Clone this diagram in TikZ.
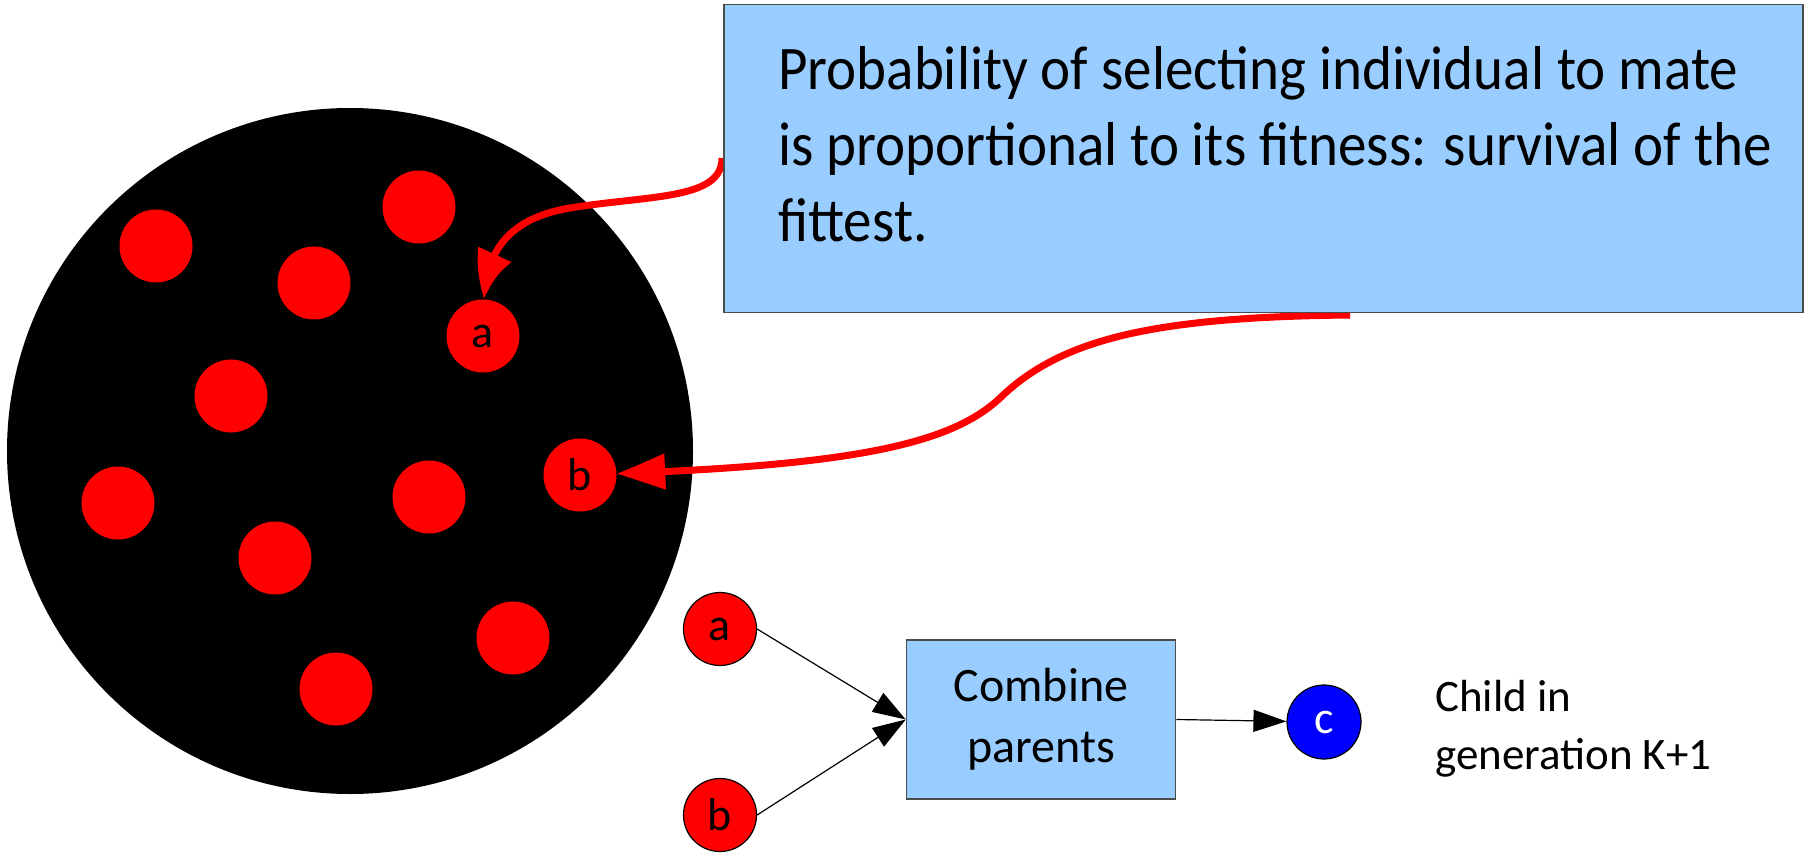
\documentclass[tikz,border=0pt]{standalone}
\usepackage{fontspec}
\setmainfont{Carlito}
\newfontfamily\panelfont[FakeStretch=0.92]{Carlito}
\usetikzlibrary{arrows.meta,bending}
\definecolor{skyfill}{HTML}{99CCFF}
\definecolor{dotred}{HTML}{FF0000}
\definecolor{childblue}{HTML}{0000FF}
\begin{document}
\begin{tikzpicture}[x=1pt,y=-1pt,
  dot/.style={circle,fill=dotred,minimum size=73pt,inner sep=0pt,font=\fontsize{46}{46}\selectfont},
  parent/.style={dot,draw=black,line width=1.2pt},
  panel/.style={rectangle,fill=skyfill,draw=black!70,line width=1.5pt,inner sep=0pt},
  pick/.style={draw=dotred,line width=7pt,-{Triangle[length=50pt,width=34pt,bend]}},
  flow/.style={draw=black,line width=1.2pt,-{Triangle[length=33pt,width=22pt]}}]
\useasboundingbox (0,0) rectangle (1806,858);

% population
\node[circle,fill=black,minimum size=686pt,inner sep=0pt] (pop) at (350,451) {};
\node[dot] (d1) at (156,246) {};
\node[dot] (d2) at (419,207) {};
\node[dot] (d3) at (314,283) {};
\node[dot] (d4) at (231,396) {};
\node[dot] (d5) at (118,503) {};
\node[dot] (d6) at (429,497) {};
\node[dot] (d7) at (275,558) {};
\node[dot] (d8) at (513,638) {};
\node[dot] (d9) at (336,689) {};
\node[dot] (sela) at (483,336) {a};
\node[dot] (selb) at (580,475) {b};

% selection arrows
\coordinate (pa) at (722,158);
\coordinate (pb) at (1350,315);
\draw[pick] (pa) .. controls (722,200) and (650,195) .. (570,208) .. controls (510,218) and (486,250) .. (sela);
\draw[pick] (pb) .. controls (1150,317) and (1060,340) .. (1000,398) .. controls (950,445) and (850,465) .. (selb);

% explanation panel
\node[panel,minimum width=1079pt,minimum height=308pt,anchor=north west] (prob) at (723,4) {};
\node[anchor=north west,align=left,inner sep=0pt,font=\panelfont\fontsize{62}{76}\selectfont] (probtxt) at (778,46)
  {Probability of selecting individual to mate\\is proportional to its fitness: survival of the\\fittest.};

% crossover
\node[parent] (para) at (720,629) {a};
\node[parent] (parb) at (720,815) {b};
\node[panel,minimum width=269pt,minimum height=159pt,align=center,font=\fontsize{48}{61}\selectfont] (comb) at (1041,719.5) {Combine\\parents};
\node[circle,fill=childblue,draw=black,line width=1.2pt,minimum size=74pt,inner sep=0pt,text=white,font=\fontsize{46}{46}\selectfont] (child) at (1324,722) {c};
\node[anchor=north west,align=left,inner sep=0pt,font=\fontsize{45}{58}\selectfont] (childtxt) at (1435,680) {Child in\\generation K+1};

\draw[flow] (para.east) -- (comb.west);
\draw[flow] (parb.east) -- (comb.west);
\draw[flow] (comb.east) -- (child);
\end{tikzpicture}
\end{document}
